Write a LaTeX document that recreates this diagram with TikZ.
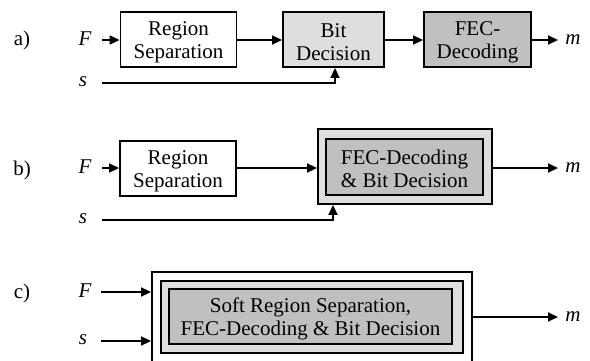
\documentclass[tikz,border=0pt]{standalone}
\usepackage{fontspec}
\setmainfont{Liberation Serif}
\usetikzlibrary{arrows.meta}
\definecolor{lightfill}{RGB}{222,222,222}
\definecolor{darkfill}{RGB}{192,192,192}
% invisible strut that lowers two-line block text a little
\newcommand\topgap{\rule{0pt}{19bp}}
\tikzset{
  block/.style={draw=black, line width=1.9bp, align=center, inner sep=0pt,
                font=\fontsize{21bp}{23bp}\selectfont},
  sym/.style={font=\fontsize{21bp}{25bp}\selectfont\itshape, inner sep=0pt},
  tag/.style={font=\fontsize{21bp}{25bp}\selectfont, inner sep=0pt},
  flow/.style={line width=1.9bp, -{Triangle[length=10bp,width=9bp]}},
}
\begin{document}
\begin{tikzpicture}[x=1bp,y=-1bp]
\useasboundingbox (0,0) rectangle (590,360);

% ---------------- a) separate stages ----------------
\node[tag] (la) at (22,40) {a)};
\node[sym] (Fa) at (85,39) {F};
\node[sym] (sa) at (83,82) {s};
\node[sym] (ma) at (573,40) {m};
\coordinate (Fa0) at (102,40);
\coordinate (sa0) at (102,83);
\coordinate (ma0) at (558,40);
\node[block, fill=white, minimum width=116bp, minimum height=55bp]
  (RSa) at (178.5,39.5) {\topgap Region\\Separation};
\node[block, fill=lightfill, minimum width=101bp, minimum height=55bp]
  (BDa) at (333.5,39.5) {\topgap Bit\\Decision};
\node[block, fill=darkfill, minimum width=107bp, minimum height=55bp]
  (FECa) at (477.5,39.5) {\topgap FEC-\\Decoding};
\draw[flow] (Fa0) -- (Fa0 -| RSa.west);
\draw[flow] (RSa.east |- Fa0) -- (BDa.west |- Fa0);
\draw[flow] (BDa.east |- Fa0) -- (FECa.west |- Fa0);
\draw[flow] (FECa.east |- Fa0) -- (ma0);
\draw[flow] (sa0) -| ([xshift=1.5bp]BDa.south);

% ---------------- b) joint decoding and decision ----------------
\node[tag] (lb) at (22,170) {b)};
\node[sym] (Fb) at (85,167) {F};
\node[sym] (sb) at (83,219) {s};
\node[sym] (mb) at (573,168) {m};
\coordinate (Fb0) at (102,168);
\coordinate (sb0) at (102,220);
\coordinate (mb0) at (558,168);
\node[block, fill=white, minimum width=116bp, minimum height=55bp]
  (RSb) at (178,168.5) {\topgap Region\\Separation};
\node[block, fill=lightfill, minimum width=174bp, minimum height=75bp]
  (OBb) at (405,166.5) {};
\node[block, fill=darkfill, minimum width=157bp, minimum height=56bp]
  (IBb) at (404.5,167) {\topgap FEC-Decoding\\\& Bit Decision};
\draw[flow] (Fb0) -- (Fb0 -| RSb.west);
\draw[flow] (RSb.east |- Fb0) -- (OBb.west |- Fb0);
\draw[flow] (OBb.east |- mb0) -- (mb0);
\draw[flow] (sb0) -| ([xshift=-72bp]OBb.south);

% ---------------- c) fully joint receiver ----------------
\node[tag] (lc) at (22,293) {c)};
\node[sym] (Fc) at (85,291) {F};
\node[sym] (sc) at (83,340) {s};
\node[sym] (mc) at (573,317) {m};
\coordinate (Fc0) at (101,292);
\coordinate (sc0) at (101,341);
\coordinate (mc0) at (558,317);
\node[block, fill=white, minimum width=320bp, minimum height=90bp]
  (OCc) at (312,317) {};
\node[block, fill=lightfill, minimum width=302bp, minimum height=72bp]
  (MCc) at (312,317) {};
\node[block, fill=darkfill, minimum width=283bp, minimum height=55bp]
  (ICc) at (310.5,316.5) {\topgap Soft Region Separation,\\FEC-Decoding \& Bit Decision};
\draw[flow] (Fc0) -- (Fc0 -| OCc.west);
\draw[flow] (sc0) -- (sc0 -| OCc.west);
\draw[flow] (OCc.east |- mc0) -- (mc0);
\end{tikzpicture}
\end{document}
